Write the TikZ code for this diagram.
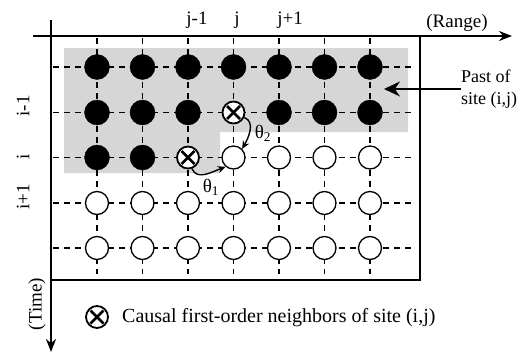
\documentclass[tikz,border=0pt]{standalone}
\usepackage{fontspec}
\setmainfont{Liberation Serif}
\usetikzlibrary{arrows.meta}
\begin{document}
\begin{tikzpicture}[x=1pt,y=-1pt,
  fullc/.style={circle,fill=black,draw=black,minimum size=25pt,inner sep=0pt},
  openc/.style={circle,fill=white,draw=black,line width=1.3pt,minimum size=23pt,inner sep=0pt},
  crossc/.style={openc,line width=1.8pt,minimum size=22pt,path picture={
     \draw[line width=2.6pt] ([shift={(-6.5,-6.5)}]path picture bounding box.center) -- ([shift={(6.5,6.5)}]path picture bounding box.center);
     \draw[line width=2.6pt] ([shift={(-6.5,6.5)}]path picture bounding box.center) -- ([shift={(6.5,-6.5)}]path picture bounding box.center);}},
  gridl/.style={line width=1.3pt,dash pattern=on 6pt off 5pt},
  lbl/.style={font=\fontsize{19}{21}\selectfont,inner sep=0pt},
  axisl/.style={-{Stealth[length=13pt,width=10pt]}}
]
\useasboundingbox (0,0) rectangle (530,356);
% shaded past region
\fill[black!16] (64,48) -- (408,48) -- (408,132) -- (220,132) -- (220,173) -- (64,173) -- cycle;
% dashed grid
\foreach \y in {67,112.5,157.5,203,248} {
  \coordinate (hl) at (53,\y); \coordinate (hr) at (413,\y);
  \draw[gridl] (hl) -- (hr);
}
\foreach \x in {97,142.5,188,233.5,279,324.5,370} {
  \coordinate (vt) at (\x,38); \coordinate (vb) at (\x,274);
  \draw[gridl] (vt) -- (vb);
}
% frame
\coordinate (bl) at (51,280); \coordinate (br) at (420,280); \coordinate (tr) at (420,36);
\draw[line width=1.2pt] (bl) -- (br) -- (tr);
% axes
\coordinate (xs) at (33,36); \coordinate (xe) at (512,36);
\coordinate (ys) at (51,20); \coordinate (ye) at (51,352);
\draw[line width=2pt,axisl] (xs) -- (xe);
\draw[line width=2.6pt,axisl] (ys) -- (ye);
% sites
\foreach \x [count=\c] in {97,142.5,188,233.5,279,324.5,370} {
  \node[fullc] (f1-\c) at (\x,67) {};
}
\foreach \x [count=\c] in {97,142.5,188} {
  \node[fullc] (f2-\c) at (\x,112.5) {};
}
\foreach \x [count=\c from 5] in {279,324.5,370} {
  \node[fullc] (f2-\c) at (\x,112.5) {};
}
\node[crossc] (n2) at (233.5,112.5) {};
\node[fullc] (f3-1) at (97,157.5) {};
\node[fullc] (f3-2) at (142.5,157.5) {};
\node[crossc] (n1) at (188,157.5) {};
\node[openc] (s) at (233.5,157.5) {};
\foreach \x [count=\c from 5] in {279,324.5,370} {
  \node[openc] (o3-\c) at (\x,157.5) {};
}
\foreach \x [count=\c] in {97,142.5,188,233.5,279,324.5,370} {
  \node[openc] (o4-\c) at (\x,203) {};
  \node[openc] (o5-\c) at (\x,248) {};
}
% theta arrows
\draw[line width=1.4pt,-{Stealth[length=8pt,width=7pt]}] (n2.-25) to[out=-20,in=60] (s.45);
\draw[line width=1.4pt,-{Stealth[length=8pt,width=7pt]}] (n1.-70) to[out=-70,in=200] (s.230);
\node[lbl] (t2) at (263,133) {θ\textsubscript{2}};
\node[lbl] (t1) at (211,187) {θ\textsubscript{1}};
% labels
\node[lbl] (jm) at (197,20) {j-1};
\node[lbl] (jj) at (237,20) {j};
\node[lbl] (jp) at (290,20) {j+1};
\node[lbl] (rg) at (457,23) {(Range)};
\node[lbl,rotate=90] (im) at (23,106) {i-1};
\node[lbl,rotate=90] (ii) at (23,157) {i};
\node[lbl,rotate=90] (ip) at (23,197) {i+1};
\node[lbl,rotate=90] (tm) at (37,304) {(Time)};
\node[lbl,align=left,anchor=west,font=\fontsize{18}{22}\selectfont] (past) at (461,89) {Past of\\site (i,j)};
\coordinate (pt) at (384,89);
\draw[line width=1.3pt,-{Stealth[length=16pt,width=15pt]}] (past.west) -- (pt);
% legend
\node[crossc] (lg) at (97,317) {};
\node[lbl,anchor=west,font=\fontsize{20}{22}\selectfont] (lgt) at (122,318) {Causal first-order neighbors of site (i,j)};
\end{tikzpicture}
\end{document}
